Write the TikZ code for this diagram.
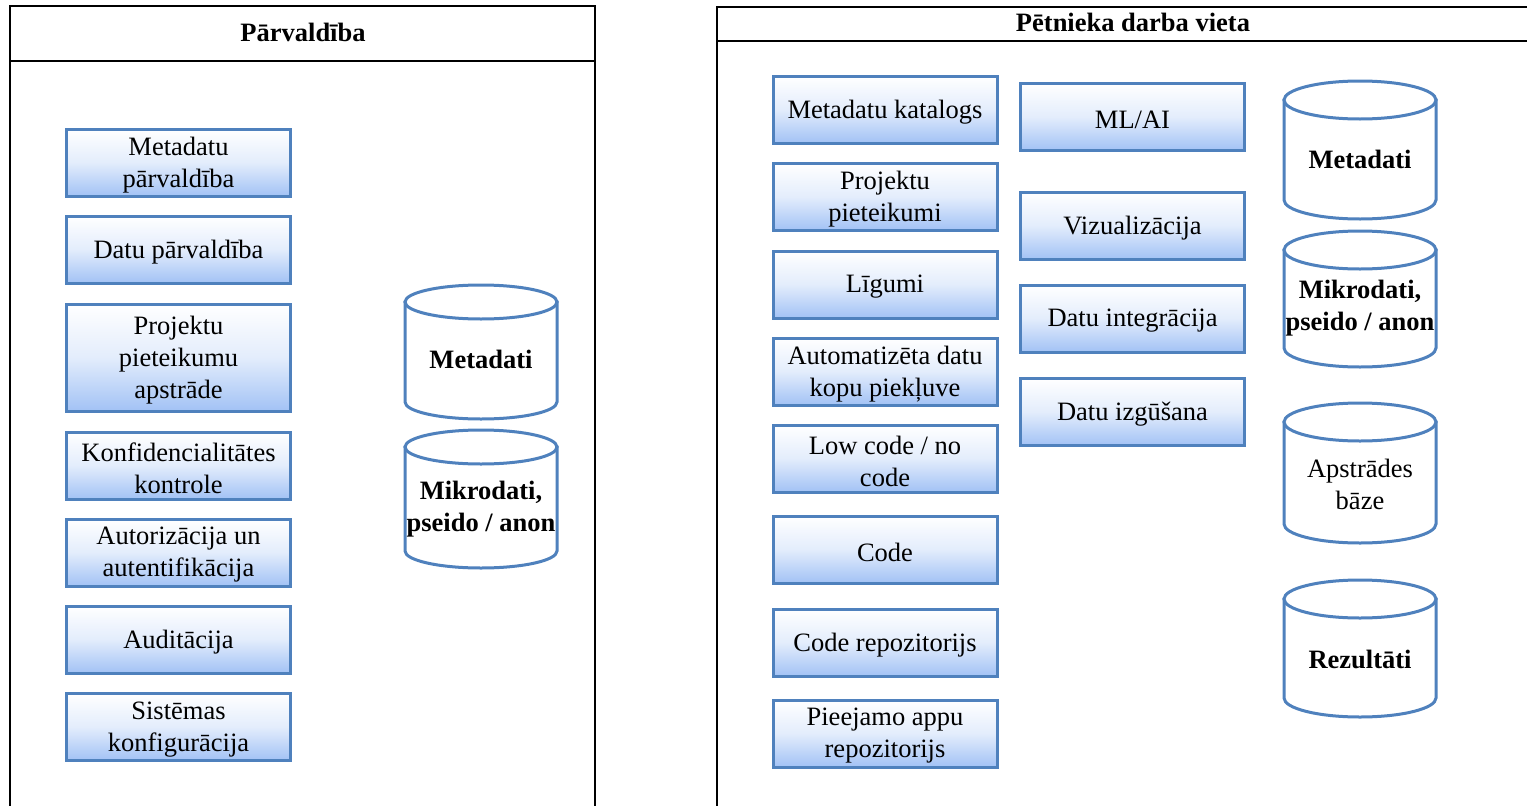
\documentclass[tikz,border=0pt]{standalone}
\usepackage{fontspec}
\setmainfont{Liberation Serif}
\definecolor{bordblue}{RGB}{79,129,189}
\definecolor{fillblue}{RGB}{162,194,245}
\tikzset{
  stepbox/.style={draw=bordblue, line width=3pt, top color=white, bottom color=fillblue,
    middle color=white!70!fillblue, shading angle=0,
    minimum width=224pt, minimum height=67pt, inner sep=0pt, align=center,
    font=\fontsize{26.5}{32}\selectfont},
  boxtext/.style={inner sep=0pt, align=center, font=\fontsize{26.5}{32}\selectfont, yshift=-2.5pt},
  cylline/.style={draw=bordblue, line width=3pt, fill=white},
  cyltext/.style={align=center, inner sep=0pt, font=\fontsize{26.5}{32}\selectfont},
  cylbold/.style={cyltext, font=\bfseries\fontsize{26.5}{32}\selectfont},
  frameline/.style={draw=black, line width=2pt},
  titletext/.style={font=\bfseries\fontsize{26.5}{30}\selectfont, inner sep=0pt, yshift=1pt}
}
\newcommand{\dbcyl}[6]{% name, xleft, xright, top, bottom, ry
  \pgfmathsetmacro{\cx}{(#2+#3)/2}
  \pgfmathsetmacro{\rx}{(#3-#2)/2}
  \pgfmathsetmacro{\ta}{#4+#6}
  \pgfmathsetmacro{\ba}{#5-#6}
  \path[cylline] (#2,\ta) -- (#2,\ba) arc[start angle=180,end angle=360,x radius=\rx pt,y radius=#6 pt] -- (#3,\ta) -- cycle;
  \path[cylline] (\cx,\ta) ellipse[x radius=\rx pt, y radius=#6 pt];
}
\newcommand{\bx}[4][67]{% [height] name, center, text
  \node[stepbox, minimum height=#1pt] (#2) at (#3) {};
  \node[boxtext] (#2-t) at (#2.center) {#4};
}
\begin{document}
\begin{tikzpicture}[x=1pt,y=-1pt]
\useasboundingbox (0,0) rectangle (1527,806);
\clip (0,0) rectangle (1527,806);

% frames
\draw[frameline] (10,820) -- (10,6) -- (595,6) -- (595,820);
\draw[frameline] (10,61) -- (595,61);
\node[titletext] (t1) at (303,33) {Pārvaldība};

\draw[frameline] (717,820) -- (717,7) -- (1540,7);
\draw[frameline] (717,41) -- (1540,41);
\node[titletext] (t2) at (1133,23) {Pētnieka darba vieta};

% left column
\bx{l1}{178.5,162.5}{Metadatu\\pārvaldība}
\bx{l2}{178.5,249.5}{Datu pārvaldība}
\bx[107]{l3}{178.5,357.5}{Projektu\\pieteikumu\\apstrāde}
\bx{l4}{178.5,465.5}{Konfidencialitātes\\kontrole}
\bx{l5}{178.5,552.5}{Autorizācija un\\autentifikācija}
\bx{l6}{178.5,639.5}{Auditācija}
\bx{l7}{178.5,727}{Sistēmas\\konfigurācija}

% left cylinders
\dbcyl{c1}{405}{557}{285}{419}{17}
\node[cylbold] (c1) at (481,359) {Metadati};
\dbcyl{c2}{405}{557}{430}{568}{17}
\node[cylbold] (c2) at (481,509) {Mikrodati,\\pseido / anon};

% right column 1
\bx{r1}{885,109.5}{Metadatu katalogs}
\bx{r2}{885,197}{Projektu\\pieteikumi}
\bx{r3}{885,284.5}{Līgumi}
\bx{r4}{885,371.5}{Automatizēta datu\\kopu piekļuve}
\bx{r5}{885,458.5}{Low code / no\\code}
\bx{r6}{885,549.5}{Code}
\bx{r7}{885,642.5}{Code repozitorijs}
\bx{r8}{885,733.5}{Pieejamo appu\\repozitorijs}

% right column 2
\bx{m1}{1132.5,117}{ML/AI}
\bx{m2}{1132.5,225.5}{Vizualizācija}
\bx{m3}{1132.5,318.5}{Datu integrācija}
\bx{m4}{1132.5,412}{Datu izgūšana}

% right cylinders
\dbcyl{d1}{1284}{1436}{81}{219}{19}
\node[cylbold] (d1) at (1360,159) {Metadati};
\dbcyl{d2}{1284}{1436}{231}{367}{19}
\node[cylbold] (d2) at (1360,308) {Mikrodati,\\pseido / anon};
\dbcyl{d3}{1284}{1436}{403}{543}{19}
\node[cyltext] (d3) at (1360,484) {Apstrādes\\bāze};
\dbcyl{d4}{1284}{1436}{580}{717}{19}
\node[cylbold] (d4) at (1360,659) {Rezultāti};
\end{tikzpicture}
\end{document}
